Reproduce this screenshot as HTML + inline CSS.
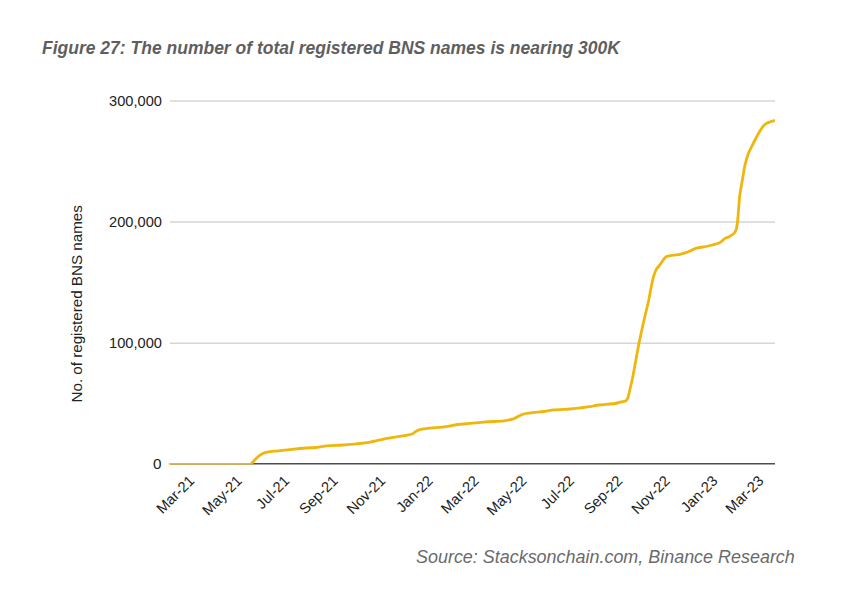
<!DOCTYPE html>
<html><head><meta charset="utf-8"><style>
html,body{margin:0;padding:0;background:#fff;width:852px;height:600px;overflow:hidden}
svg{display:block}
text{font-family:"Liberation Sans",sans-serif}
</style></head><body>
<svg width="852" height="600" viewBox="0 0 852 600">
<text x="42" y="53.7" font-size="17.5" font-weight="bold" font-style="italic" fill="#5f5f5f" textLength="577.8" lengthAdjust="spacingAndGlyphs">Figure 27: The number of total registered BNS names is nearing 300K</text>
<g stroke="#d6d6d6" stroke-width="1.5">
<line x1="170" y1="101.1" x2="775" y2="101.1"/>
<line x1="170" y1="222.1" x2="775" y2="222.1"/>
<line x1="170" y1="343.2" x2="775" y2="343.2"/>
</g>
<line x1="170" y1="463.8" x2="775" y2="463.8" stroke="#4d4d4d" stroke-width="1.5"/>
<g font-size="15.3" fill="#222" text-anchor="end">
<text x="161.9" y="106" textLength="52.8" lengthAdjust="spacingAndGlyphs">300,000</text>
<text x="161.9" y="226.9" textLength="52.8" lengthAdjust="spacingAndGlyphs">200,000</text>
<text x="161.9" y="348.1" textLength="52.8" lengthAdjust="spacingAndGlyphs">100,000</text>
<text x="161.5" y="469.3">0</text>
</g>
<text transform="translate(82 402.5) rotate(-90)" font-size="15.18" fill="#222">No. of registered BNS names</text>
<g font-size="14.7" fill="#222">
<text x="0" y="0" text-anchor="end" transform="translate(195.3 481.6) rotate(-45)">Mar-21</text>
<text x="0" y="0" text-anchor="end" transform="translate(242.9 481.6) rotate(-45)">May-21</text>
<text x="0" y="0" text-anchor="end" transform="translate(290.4 481.6) rotate(-45)">Jul-21</text>
<text x="0" y="0" text-anchor="end" transform="translate(338.8 481.6) rotate(-45)">Sep-21</text>
<text x="0" y="0" text-anchor="end" transform="translate(386.3 481.6) rotate(-45)">Nov-21</text>
<text x="0" y="0" text-anchor="end" transform="translate(433.9 481.6) rotate(-45)">Jan-22</text>
<text x="0" y="0" text-anchor="end" transform="translate(479.9 481.6) rotate(-45)">Mar-22</text>
<text x="0" y="0" text-anchor="end" transform="translate(527.5 481.6) rotate(-45)">May-22</text>
<text x="0" y="0" text-anchor="end" transform="translate(575.0 481.6) rotate(-45)">Jul-22</text>
<text x="0" y="0" text-anchor="end" transform="translate(623.4 481.6) rotate(-45)">Sep-22</text>
<text x="0" y="0" text-anchor="end" transform="translate(670.9 481.6) rotate(-45)">Nov-22</text>
<text x="0" y="0" text-anchor="end" transform="translate(718.5 481.6) rotate(-45)">Jan-23</text>
<text x="0" y="0" text-anchor="end" transform="translate(764.5 481.6) rotate(-45)">Mar-23</text>
</g>
<clipPath id="ca"><rect x="150" y="0" width="625" height="464.6"/></clipPath>
<path clip-path="url(#ca)" d="M170 464.3 L251 464.3  C251.4 463.8 252.4 462.5 253.5 461.3 C254.6 460.1 256.2 458.5 257.5 457.3 C258.8 456.1 260.2 455.1 261.5 454.3 C262.8 453.5 263.6 453.1 265.0 452.7 C266.4 452.3 267.8 452.0 270.0 451.7 C272.2 451.4 274.5 451.2 278.2 450.8 C281.9 450.4 287.6 449.8 292.3 449.3 C297.0 448.8 302.4 448.3 306.3 448.0 C310.2 447.7 312.9 447.8 315.7 447.5 C318.5 447.2 320.8 446.6 323.2 446.3 C325.6 446.0 326.6 445.9 330.0 445.7 C333.4 445.5 339.2 445.3 343.5 445.0 C347.8 444.7 351.7 444.3 356.0 443.9 C360.3 443.4 364.2 443.2 369.3 442.3 C374.4 441.4 381.8 439.3 386.9 438.3 C392.0 437.3 395.8 437.0 400.0 436.3 C404.2 435.6 408.7 435.1 412.0 434.0 C415.3 432.9 414.3 430.8 420.0 429.6 C425.7 428.4 439.7 427.5 446.0 426.6 C452.3 425.8 451.7 425.2 458.0 424.5 C464.3 423.8 476.3 422.7 484.0 422.1 C491.7 421.5 499.0 421.4 504.0 420.8 C509.0 420.2 510.7 419.7 514.0 418.6 C517.3 417.5 519.0 415.2 524.0 414.0 C529.0 412.8 539.0 412.2 544.0 411.5 C549.0 410.8 549.7 410.2 554.0 409.8 C558.3 409.4 565.7 409.3 570.0 409.0 C574.3 408.7 576.7 408.3 580.0 407.9 C583.3 407.5 587.0 407.2 590.0 406.7 C593.0 406.2 594.1 405.5 598.3 405.0 C602.5 404.5 611.2 404.0 615.0 403.5 C618.8 403.0 619.1 402.3 620.8 401.9 C622.5 401.5 624.3 401.6 625.4 401.0 C626.5 400.4 626.8 400.6 627.6 398.6 C628.4 396.6 629.2 392.6 630.0 389.2 C630.8 385.8 631.7 382.0 632.5 378.3 C633.3 374.6 633.5 372.8 634.6 367.0 C635.7 361.2 637.5 350.7 639.0 343.3 C640.5 335.9 641.9 329.7 643.5 322.5 C645.1 315.3 647.5 305.6 648.8 300.0 C650.0 294.4 650.0 292.8 650.8 289.0 C651.6 285.2 652.4 280.7 653.3 277.5 C654.2 274.3 655.1 271.8 656.2 269.6 C657.4 267.5 658.5 266.6 660.0 264.6 C661.5 262.6 663.6 259.1 665.0 257.7 C666.4 256.3 666.9 256.6 668.3 256.2 C669.7 255.8 671.3 255.5 673.3 255.2 C675.2 254.9 678.0 254.7 680.0 254.3 C682.0 253.9 683.3 253.5 685.0 252.9 C686.7 252.3 688.1 251.8 690.0 251.0 C691.9 250.2 693.8 248.8 696.5 248.1 C699.2 247.3 702.2 247.3 706.0 246.5 C709.8 245.7 715.9 244.3 719.0 243.0 C722.1 241.7 723.3 239.4 724.9 238.4 C726.5 237.4 727.1 237.9 728.7 237.0 C730.3 236.1 733.2 234.4 734.5 232.9 C735.8 231.4 736.0 230.3 736.5 228.2 C737.0 226.0 737.2 225.4 737.7 220.0 C738.2 214.6 739.0 202.5 739.7 196.0 C740.5 189.5 741.4 185.7 742.2 181.0 C743.0 176.3 743.7 171.5 744.4 167.8 C745.1 164.1 745.8 161.8 746.6 159.0 C747.4 156.2 748.1 154.1 749.3 151.3 C750.5 148.6 752.2 145.5 753.7 142.5 C755.2 139.5 757.1 135.8 758.6 133.2 C760.1 130.6 761.3 128.7 762.5 127.1 C763.7 125.5 764.5 124.7 765.8 123.8 C767.1 122.9 768.8 122.3 770.2 121.8 C771.7 121.3 773.8 120.9 774.5 120.7" fill="none" stroke="#efb70e" stroke-width="2.8" stroke-linejoin="round" stroke-linecap="round"/>
<text x="416" y="562.7" font-size="17.5" font-style="italic" fill="#6a6a6a" textLength="378.8" lengthAdjust="spacingAndGlyphs">Source: Stacksonchain.com, Binance Research</text>
</svg>
</body></html>
